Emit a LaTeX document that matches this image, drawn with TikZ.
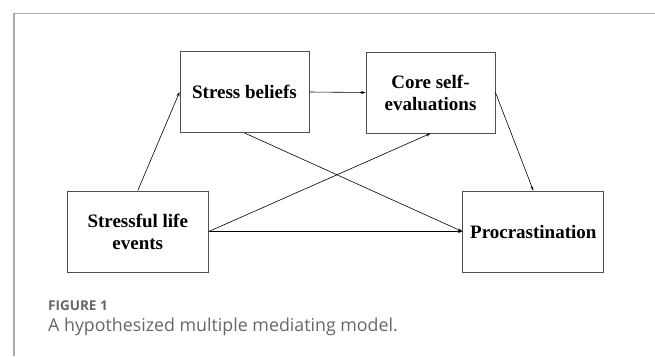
\documentclass[tikz,border=0pt]{standalone}
\usepackage{fontspec}
\setmainfont{Liberation Serif}
\newfontfamily\capfont{Open Sans}
\usetikzlibrary{arrows.meta}
\definecolor{framegray}{HTML}{A8A8A8}
\definecolor{boxgray}{HTML}{505050}
\definecolor{capgray}{HTML}{666666}
\begin{document}
\begin{tikzpicture}[x=1pt,y=-1pt,
  varbox/.style={draw=boxgray, line width=0.9pt, minimum height=81pt, inner sep=0pt,
     align=center, font=\fontsize{19}{22}\selectfont\bfseries},
  topbox/.style={varbox, minimum width=129pt},
  botbox/.style={varbox, minimum width=141pt},
  link/.style={draw=black, line width=0.6pt, -{Stealth[length=4.5pt,width=3pt]}}]
\useasboundingbox (0,0) rectangle (655,356);
\draw[framegray, line width=1.2pt] (655,13.5) -- (14,13.5) -- (14,356);
\node[topbox] (sb) at (244.5,92) {Stress beliefs};
\node[topbox] (cse) at (430.5,92.5) {Core self-\\evaluations};
\node[botbox] (sle) at (137.8,231.5) {Stressful life\\events};
\node[botbox] (pro) at (533.3,231.5) {Procrastination};
\draw[link] (sle.north) -- (sb.west);
\draw[link] (sb.east) -- (cse.west);
\draw[link] (sb.south) -- (pro.west);
\draw[link] (sle.east) -- (cse.south);
\draw[link] (sle.east) -- (pro.west);
\draw[link] (cse.east) -- (pro.north);
\node[anchor=base west, inner sep=0pt, text=capgray, font=\capfont\bfseries\fontsize{13.5}{16}\selectfont] (fig) at (48,310.7) {FIGURE 1};
\node[anchor=base west, inner sep=0pt, text=capgray, font=\capfont\fontsize{17.8}{21}\selectfont] (cap) at (48,331.7) {A hypothesized multiple mediating model.};
\end{tikzpicture}
\end{document}
